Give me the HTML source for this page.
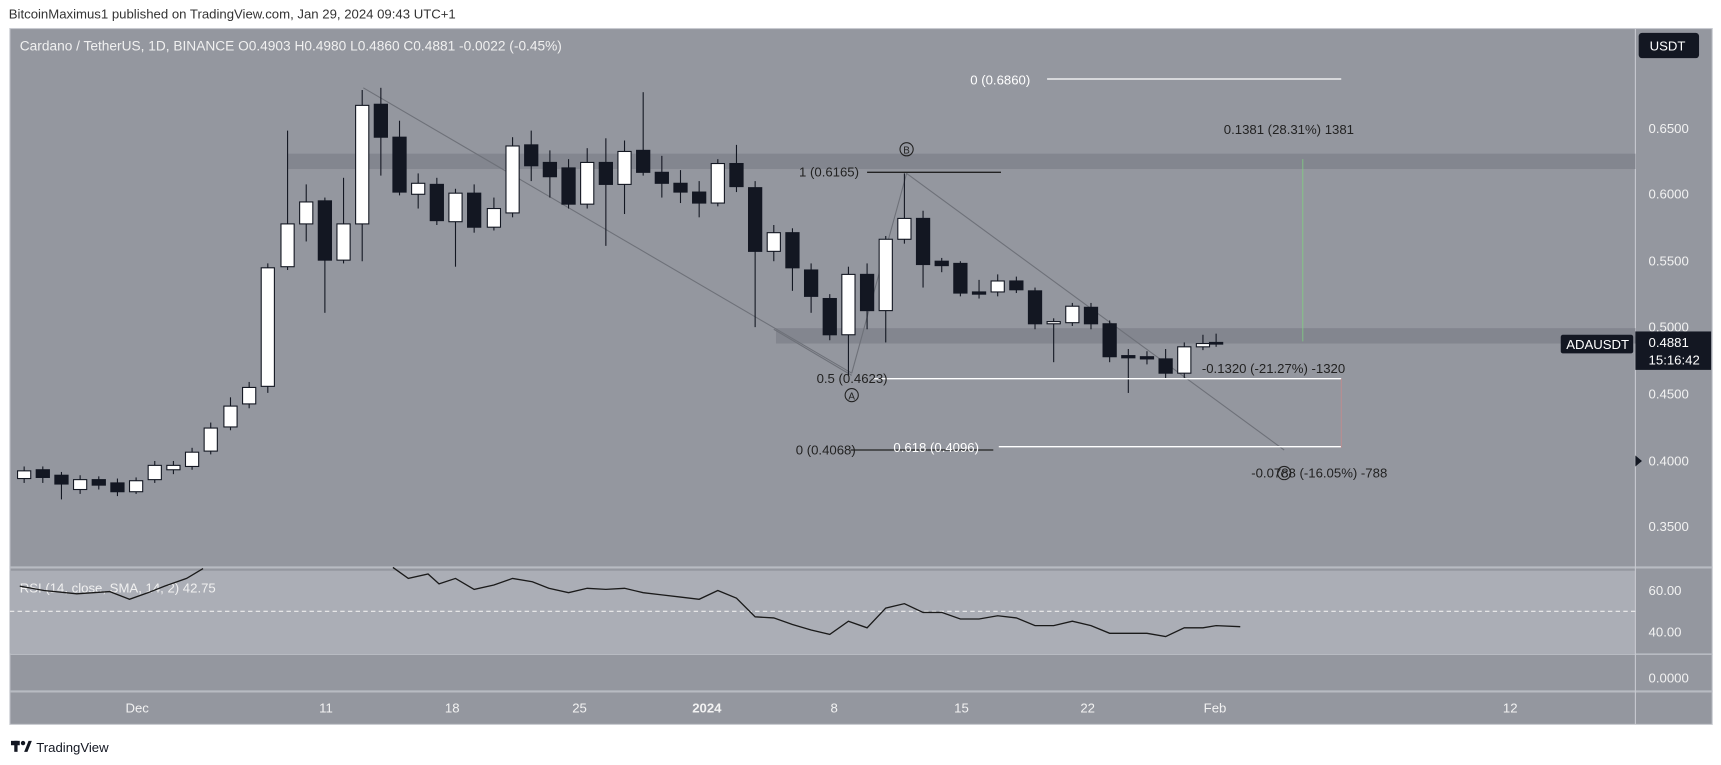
<!DOCTYPE html>
<html><head><meta charset="utf-8"><style>
html,body{margin:0;padding:0;background:#fff;width:1721px;height:765px;overflow:hidden}
svg{display:block}
text{font-family:"Liberation Sans",sans-serif}
</style></head><body>
<svg width="1721" height="765" viewBox="0 0 1568 697" preserveAspectRatio="none" xmlns="http://www.w3.org/2000/svg">
<rect width="1568" height="697" fill="#fff"/>
<text x="8" y="17" font-size="12" fill="#333">BitcoinMaximus1 published on TradingView.com, Jan 29, 2024 09:43 UTC+1</text>
<rect x="9" y="26" width="1551" height="634" fill="#94979f" stroke="#c8cad0" stroke-width="1"/>
<!-- RSI band -->
<rect x="9" y="520" width="1481" height="75" fill="#abaeb6"/>
<line x1="9" y1="517" x2="1560" y2="517" stroke="#b8bbc2" stroke-width="2"/>
<line x1="9" y1="596" x2="1560" y2="596" stroke="#b8bbc2" stroke-width="1.5"/>
<line x1="9" y1="630" x2="1560" y2="630" stroke="#b8bbc2" stroke-width="2"/>
<line x1="1490" y1="26" x2="1490" y2="660" stroke="#c8cad0" stroke-width="1"/>
<line x1="9" y1="557" x2="1490" y2="557" stroke="#eee" stroke-width="1" stroke-dasharray="4,3"/>
<!-- zones -->
<rect x="262" y="140" width="1228" height="14" fill="#83868f"/>
<rect x="707" y="299" width="783" height="14" fill="#83868f"/>
<!-- header -->
<text x="18" y="46" font-size="12.5" fill="#f0f0f0">Cardano / TetherUS, 1D, BINANCE  O0.4903  H0.4980  L0.4860  C0.4881  -0.0022 (-0.45%)</text>
<!-- wave lines -->
<g stroke="#6e7179" stroke-width="1" fill="none">
<line x1="331" y1="80" x2="776" y2="340"/>
<polyline points="776,340 826,158 1170,410"/>
<line x1="705" y1="300" x2="776" y2="342"/>
</g>
<!-- candles -->
<g stroke="#131722" stroke-width="1">
<line x1="22" y1="425" x2="22" y2="440"/><rect x="16" y="429" width="12" height="7" fill="#fff"/>
<line x1="39" y1="425" x2="39" y2="440"/><rect x="33" y="428" width="12" height="7" fill="#131722"/>
<line x1="56" y1="430" x2="56" y2="455"/><rect x="50" y="433" width="12" height="8" fill="#131722"/>
<line x1="73" y1="433" x2="73" y2="450"/><rect x="67" y="437" width="12" height="9" fill="#fff"/>
<line x1="90" y1="434" x2="90" y2="446"/><rect x="84" y="437" width="12" height="5" fill="#131722"/>
<line x1="107" y1="436" x2="107" y2="452"/><rect x="101" y="440" width="12" height="8" fill="#131722"/>
<line x1="124" y1="435" x2="124" y2="450"/><rect x="118" y="438" width="12" height="10" fill="#fff"/>
<line x1="141" y1="420" x2="141" y2="440"/><rect x="135" y="424" width="12" height="13" fill="#fff"/>
<line x1="158" y1="420" x2="158" y2="432"/><rect x="152" y="424" width="12" height="4" fill="#fff"/>
<line x1="175" y1="408" x2="175" y2="428"/><rect x="169" y="412" width="12" height="13" fill="#fff"/>
<line x1="192" y1="385" x2="192" y2="414"/><rect x="186" y="390" width="12" height="21" fill="#fff"/>
<line x1="210" y1="362" x2="210" y2="392"/><rect x="204" y="370" width="12" height="19" fill="#fff"/>
<line x1="227" y1="348" x2="227" y2="372"/><rect x="221" y="353" width="12" height="15" fill="#fff"/>
<line x1="244" y1="240" x2="244" y2="358"/><rect x="238" y="244" width="12" height="108" fill="#fff"/>
<line x1="262" y1="119" x2="262" y2="246"/><rect x="256" y="204" width="12" height="39" fill="#fff"/>
<line x1="279" y1="168" x2="279" y2="220"/><rect x="273" y="184" width="12" height="20" fill="#fff"/>
<line x1="296" y1="180" x2="296" y2="285"/><rect x="290" y="183" width="12" height="54" fill="#131722"/>
<line x1="313" y1="162" x2="313" y2="240"/><rect x="307" y="204" width="12" height="33" fill="#fff"/>
<line x1="330" y1="82" x2="330" y2="238"/><rect x="324" y="96" width="12" height="108" fill="#fff"/>
<line x1="347" y1="80" x2="347" y2="160"/><rect x="341" y="95" width="12" height="30" fill="#131722"/>
<line x1="364" y1="110" x2="364" y2="178"/><rect x="358" y="125" width="12" height="50" fill="#131722"/>
<line x1="381" y1="158" x2="381" y2="190"/><rect x="375" y="167" width="12" height="10" fill="#fff"/>
<line x1="398" y1="162" x2="398" y2="205"/><rect x="392" y="168" width="12" height="33" fill="#131722"/>
<line x1="415" y1="172" x2="415" y2="243"/><rect x="409" y="176" width="12" height="26" fill="#fff"/>
<line x1="432" y1="168" x2="432" y2="212"/><rect x="426" y="176" width="12" height="31" fill="#131722"/>
<line x1="450" y1="180" x2="450" y2="210"/><rect x="444" y="190" width="12" height="17" fill="#fff"/>
<line x1="467" y1="125" x2="467" y2="198"/><rect x="461" y="133" width="12" height="61" fill="#fff"/>
<line x1="484" y1="119" x2="484" y2="165"/><rect x="478" y="132" width="12" height="19" fill="#131722"/>
<line x1="501" y1="137" x2="501" y2="180"/><rect x="495" y="148" width="12" height="13" fill="#131722"/>
<line x1="518" y1="145" x2="518" y2="190"/><rect x="512" y="153" width="12" height="33" fill="#131722"/>
<line x1="535" y1="135" x2="535" y2="190"/><rect x="529" y="148" width="12" height="38" fill="#fff"/>
<line x1="552" y1="126" x2="552" y2="224"/><rect x="546" y="148" width="12" height="20" fill="#131722"/>
<line x1="569" y1="128" x2="569" y2="195"/><rect x="563" y="138" width="12" height="30" fill="#fff"/>
<line x1="586" y1="84" x2="586" y2="160"/><rect x="580" y="137" width="12" height="20" fill="#131722"/>
<line x1="603" y1="142" x2="603" y2="180"/><rect x="597" y="157" width="12" height="10" fill="#131722"/>
<line x1="620" y1="155" x2="620" y2="185"/><rect x="614" y="167" width="12" height="8" fill="#131722"/>
<line x1="637" y1="165" x2="637" y2="198"/><rect x="631" y="175" width="12" height="10" fill="#131722"/>
<line x1="654" y1="145" x2="654" y2="188"/><rect x="648" y="149" width="12" height="36" fill="#fff"/>
<line x1="671" y1="132" x2="671" y2="175"/><rect x="665" y="149" width="12" height="21" fill="#131722"/>
<line x1="688" y1="165" x2="688" y2="298"/><rect x="682" y="171" width="12" height="58" fill="#131722"/>
<line x1="705" y1="205" x2="705" y2="238"/><rect x="699" y="212" width="12" height="17" fill="#fff"/>
<line x1="722" y1="208" x2="722" y2="265"/><rect x="716" y="212" width="12" height="32" fill="#131722"/>
<line x1="739" y1="240" x2="739" y2="285"/><rect x="733" y="246" width="12" height="24" fill="#131722"/>
<line x1="756" y1="268" x2="756" y2="310"/><rect x="750" y="272" width="12" height="33" fill="#131722"/>
<line x1="773" y1="243" x2="773" y2="342"/><rect x="767" y="250" width="12" height="55" fill="#fff"/>
<line x1="790" y1="240" x2="790" y2="300"/><rect x="784" y="250" width="12" height="33" fill="#131722"/>
<line x1="807" y1="215" x2="807" y2="312"/><rect x="801" y="218" width="12" height="65" fill="#fff"/>
<line x1="824" y1="158" x2="824" y2="222"/><rect x="818" y="199" width="12" height="19" fill="#fff"/>
<line x1="841" y1="192" x2="841" y2="262"/><rect x="835" y="199" width="12" height="42" fill="#131722"/>
<line x1="858" y1="235" x2="858" y2="248"/><rect x="852" y="238" width="12" height="4" fill="#131722"/>
<line x1="875" y1="238" x2="875" y2="270"/><rect x="869" y="240" width="12" height="27" fill="#131722"/>
<line x1="892" y1="255" x2="892" y2="272"/><rect x="886" y="266" width="12" height="2" fill="#131722"/>
<line x1="909" y1="250" x2="909" y2="270"/><rect x="903" y="256" width="12" height="10" fill="#fff"/>
<line x1="926" y1="252" x2="926" y2="267"/><rect x="920" y="256" width="12" height="8" fill="#131722"/>
<line x1="943" y1="262" x2="943" y2="300"/><rect x="937" y="265" width="12" height="30" fill="#131722"/>
<line x1="960" y1="290" x2="960" y2="330"/><rect x="954" y="293" width="12" height="2" fill="#fff"/>
<line x1="977" y1="276" x2="977" y2="297"/><rect x="971" y="279" width="12" height="15" fill="#fff"/>
<line x1="994" y1="276" x2="994" y2="300"/><rect x="988" y="280" width="12" height="15" fill="#131722"/>
<line x1="1011" y1="292" x2="1011" y2="330"/><rect x="1005" y="295" width="12" height="30" fill="#131722"/>
<line x1="1028" y1="318" x2="1028" y2="358"/><rect x="1022" y="324" width="12" height="2" fill="#131722"/>
<line x1="1045" y1="320" x2="1045" y2="332"/><rect x="1039" y="325" width="12" height="2" fill="#131722"/>
<line x1="1062" y1="318" x2="1062" y2="345"/><rect x="1056" y="327" width="12" height="13" fill="#131722"/>
<line x1="1079" y1="312" x2="1079" y2="345"/><rect x="1073" y="316" width="12" height="24" fill="#fff"/>
<line x1="1096" y1="305" x2="1096" y2="319"/><rect x="1090" y="313" width="12" height="3" fill="#fff"/>
<line x1="1108" y1="304" x2="1108" y2="316"/><rect x="1102" y="312" width="12" height="1.5" fill="#131722"/>
</g>
<!-- fib lines -->
<line x1="954" y1="72" x2="1222" y2="72" stroke="#fff" stroke-width="1.2"/>
<text x="884" y="77" font-size="12" fill="#fff">0 (0.6860)</text>
<line x1="790" y1="157" x2="912" y2="157" stroke="#222" stroke-width="1.2"/>
<text x="728" y="161" font-size="12" fill="#222">1 (0.6165)</text>
<line x1="795" y1="345" x2="1222" y2="345" stroke="#fff" stroke-width="1.2"/>
<text x="744" y="349" font-size="12" fill="#222">0.5 (0.4623)</text>
<line x1="775" y1="410" x2="905" y2="410" stroke="#222" stroke-width="1.2"/>
<text x="725" y="414" font-size="12" fill="#222">0 (0.4068)</text>
<line x1="910" y1="407" x2="1222" y2="407" stroke="#fff" stroke-width="1.2"/>
<text x="814" y="412" font-size="12" fill="#fff">0.618 (0.4096)</text>
<line x1="1187" y1="145" x2="1187" y2="311" stroke="#7fd17f" stroke-width="0.7"/>
<line x1="1222" y1="345" x2="1222" y2="408" stroke="#c98a8a" stroke-width="0.7"/>
<text x="1115" y="122" font-size="12" fill="#222">0.1381 (28.31%) 1381</text>
<text x="1095" y="340" font-size="12" fill="#222">-0.1320 (-21.27%) -1320</text>
<text x="1140" y="435" font-size="12" fill="#222">-0.0788 (-16.05%) -788</text>
<!-- wave labels -->
<circle cx="776" cy="360" r="6" fill="none" stroke="#222"/><text x="776" y="364" font-size="9" text-anchor="middle" fill="#222">A</text>
<circle cx="826" cy="136" r="6" fill="none" stroke="#222"/><text x="826" y="140" font-size="9" text-anchor="middle" fill="#222">B</text>
<circle cx="1170" cy="431" r="6" fill="none" stroke="#222"/><text x="1170" y="435" font-size="9" text-anchor="middle" fill="#222">C</text>
<!-- RSI -->
<text x="18" y="540" font-size="12" fill="#f0f0f0">RSI (14, close, SMA, 14, 2)  42.75</text>
<polyline fill="none" stroke="#1a1a1a" stroke-width="1.2" points="18,534 40,538 70,541 100,539 118,546 135,540 150,534 170,527 185,518"/>
<polyline fill="none" stroke="#1a1a1a" stroke-width="1.2" points="358,517 372,527 390,523 400,532 415,527 432,537 450,533 467,527 485,530 500,536 518,540 535,536 552,537 569,536 586,540 603,542 620,544 637,546 654,538 671,545 688,562 705,563 722,569 739,574 756,578 773,566 790,572 807,554 824,550 841,558 858,558 875,564 892,564 909,561 926,563 943,570 960,570 977,566 994,570 1011,577 1028,577 1045,577 1062,580 1079,572 1096,572 1108,570 1130,571"/>
<!-- price axis -->
<g font-size="12" fill="#f2f2f2">
<text x="1502" y="121">0.6500</text>
<text x="1502" y="181">0.6000</text>
<text x="1502" y="242">0.5500</text>
<text x="1502" y="302">0.5000</text>
<text x="1502" y="363">0.4500</text>
<text x="1502" y="424">0.4000</text>
<text x="1502" y="484">0.3500</text>
<text x="1502" y="542">60.00</text>
<text x="1502" y="580">40.00</text>
<text x="1502" y="622">0.0000</text>
</g>
<polygon points="1490,415 1496,420 1490,425" fill="#131722"/>
<rect x="1493" y="30" width="55" height="23" rx="3" fill="#131722"/>
<text x="1503" y="46" font-size="12" fill="#fff">USDT</text>
<rect x="1422" y="305" width="66" height="17" rx="2" fill="#131722"/>
<text x="1427" y="318" font-size="12" fill="#fff">ADAUSDT</text>
<rect x="1490" y="302" width="69" height="35" fill="#131722"/>
<text x="1502" y="316" font-size="12" fill="#fff">0.4881</text>
<text x="1502" y="332" font-size="12" fill="#fff">15:16:42</text>
<!-- time axis -->
<g font-size="12" fill="#f2f2f2" text-anchor="middle">
<text x="125" y="649">Dec</text>
<text x="297" y="649">11</text>
<text x="412" y="649">18</text>
<text x="528" y="649">25</text>
<text x="644" y="649" font-weight="bold">2024</text>
<text x="760" y="649">8</text>
<text x="876" y="649">15</text>
<text x="991" y="649">22</text>
<text x="1107" y="649">Feb</text>
<text x="1376" y="649">12</text>
</g>
<!-- footer -->
<g fill="#131722">
<rect x="10" y="675" width="8" height="4"/><rect x="13" y="675" width="3" height="10"/>
<circle cx="21" cy="677" r="2"/><polygon points="22,685 26,675 29,675 25,685"/>
</g>
<text x="33" y="685" font-size="12" fill="#131722">TradingView</text>
</svg>
</body></html>
